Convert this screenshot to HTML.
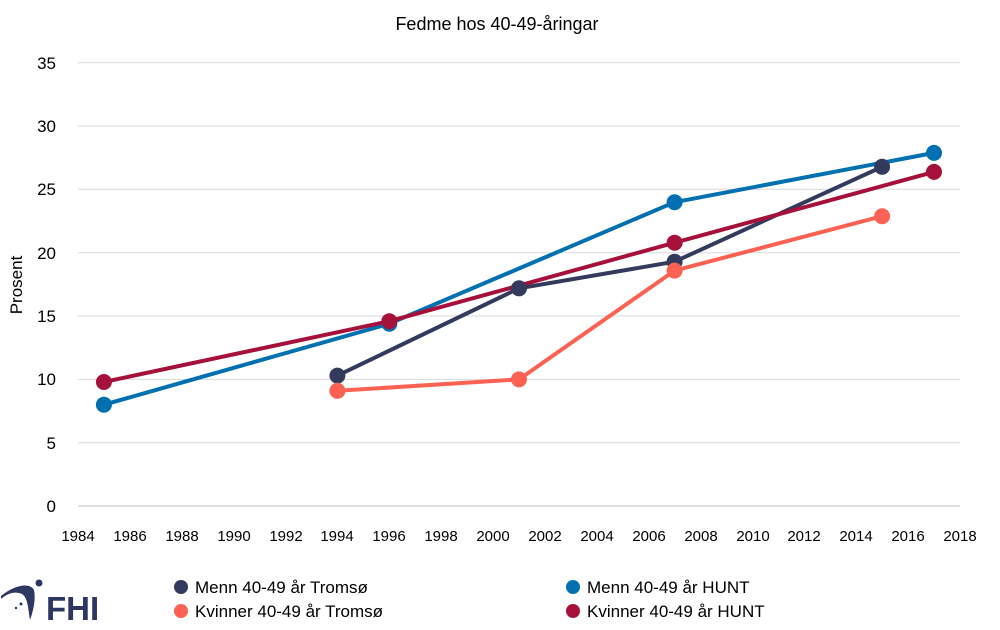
<!DOCTYPE html>
<html><head><meta charset="utf-8"><style>body{margin:0;background:#fff}svg{display:block}text{font-family:"Liberation Sans",sans-serif;fill:#000}</style></head><body>
<svg width="1000" height="630" viewBox="0 0 1000 630">
<text x="497" y="30" font-size="18" text-anchor="middle">Fedme hos 40-49-åringar</text>
<g stroke="#d9d9d9" stroke-width="1">
<line x1="78" x2="960" y1="442.7" y2="442.7"/><line x1="78" x2="960" y1="379.4" y2="379.4"/><line x1="78" x2="960" y1="316" y2="316"/><line x1="78" x2="960" y1="252.7" y2="252.7"/><line x1="78" x2="960" y1="189.3" y2="189.3"/><line x1="78" x2="960" y1="126" y2="126"/><line x1="78" x2="960" y1="62.7" y2="62.7"/>
</g>
<line x1="78" x2="960" y1="506" y2="506" stroke="#bfbfbf"/>
<g font-size="17" text-anchor="end">
<text x="56" y="512">0</text><text x="56" y="449">5</text><text x="56" y="385">10</text><text x="56" y="322">15</text><text x="56" y="259">20</text><text x="56" y="195">25</text><text x="56" y="132">30</text><text x="56" y="69">35</text>
</g>
<g font-size="15" text-anchor="middle">
<text x="78" y="541">1984</text><text x="130" y="541">1986</text><text x="182" y="541">1988</text><text x="234" y="541">1990</text><text x="286" y="541">1992</text><text x="337" y="541">1994</text><text x="389" y="541">1996</text><text x="441" y="541">1998</text><text x="493" y="541">2000</text><text x="545" y="541">2002</text><text x="597" y="541">2004</text><text x="649" y="541">2006</text><text x="701" y="541">2008</text><text x="753" y="541">2010</text><text x="804" y="541">2012</text><text x="856" y="541">2014</text><text x="908" y="541">2016</text><text x="960" y="541">2018</text>
</g>
<text transform="translate(22,285) rotate(-90)" font-size="17" text-anchor="middle">Prosent</text>
<g stroke-width="4" fill="none" stroke-linejoin="round">
<polyline stroke="#333a5c" points="337.4,375.6 519,288.3 674.6,261.7 882.1,166.8"/>
<polyline stroke="#fc6253" points="337.4,390.8 519,379.4 674.6,270.6 882.1,216.2"/>
<polyline stroke="#0070b0" points="103.9,404.7 389.3,323.7 674.6,202.2 934,152.9"/>
<polyline stroke="#a6113c" points="103.9,382 389.3,321.2 674.6,242.7 934,171.9"/>
</g>
<g fill="#333a5c"><circle cx="337.4" cy="375.6" r="8"/><circle cx="519" cy="288.3" r="8"/><circle cx="674.6" cy="261.7" r="8"/><circle cx="882.1" cy="166.8" r="8"/></g>
<g fill="#fc6253"><circle cx="337.4" cy="390.8" r="8"/><circle cx="519" cy="379.4" r="8"/><circle cx="674.6" cy="270.6" r="8"/><circle cx="882.1" cy="216.2" r="8"/></g>
<g fill="#0070b0"><circle cx="103.9" cy="404.7" r="8"/><circle cx="389.3" cy="323.7" r="8"/><circle cx="674.6" cy="202.2" r="8"/><circle cx="934" cy="152.9" r="8"/></g>
<g fill="#a6113c"><circle cx="103.9" cy="382" r="8"/><circle cx="389.3" cy="321.2" r="8"/><circle cx="674.6" cy="242.7" r="8"/><circle cx="934" cy="171.9" r="8"/></g>
<g font-size="17">
<circle cx="181" cy="587" r="7" fill="#333a5c"/><text x="195" y="593">Menn 40-49 år Tromsø</text>
<circle cx="181" cy="611" r="7" fill="#fc6253"/><text x="195" y="617">Kvinner 40-49 år Tromsø</text>
<circle cx="573" cy="587" r="7" fill="#0070b0"/><text x="587" y="593">Menn 40-49 år HUNT</text>
<circle cx="573" cy="611" r="7" fill="#a6113c"/><text x="587" y="617">Kvinner 40-49 år HUNT</text>
</g>
<g fill="#2e3760">
<path d="M1,596 C14,585 30,582 34,590 C36,600 33,612 30,620 C28,608 28,598 22,594 C15,591 8,593 1,599 Z"/>
<circle cx="39" cy="583" r="3.5"/><circle cx="21" cy="604" r="1.5"/><circle cx="16" cy="608" r="1.2"/>
<text x="46" y="620" font-size="33" font-weight="bold" style="fill:#2e3760">FHI</text>
</g>
</svg>
</body></html>
